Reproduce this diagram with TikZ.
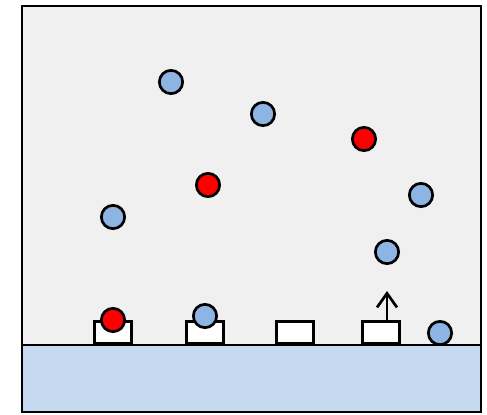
\documentclass[tikz,border=0pt]{standalone}
\usetikzlibrary{arrows.meta}
\definecolor{chamber}{HTML}{F0F0F0}
\definecolor{surface}{HTML}{C6D9F1}
\definecolor{ionblue}{HTML}{8EB4E3}
\begin{document}
\begin{tikzpicture}[
  x=0.03cm, y=-0.03cm,
  wall/.style={draw, line width=2.3pt},
  site/.style={draw, fill=white, line width=2.3pt, minimum width=1.12cm, minimum height=0.66cm, inner sep=0, anchor=south},
  ion/.style={circle, draw, line width=2.3pt, minimum size=0.7cm, inner sep=0},
  blue/.style={ion, fill=ionblue},
  red/.style={ion, fill=red},
  arr/.style={-{Straight Barb[length=12pt,width=17pt]}, line width=2.3pt}
]
\useasboundingbox (0,0) rectangle (487,414);
\fill[chamber] (22,6) rectangle (481,345);
\fill[surface] (22,345) rectangle (481,412);
\draw[wall] (22,6) rectangle (481,412);
\draw[wall] (22,345) -- (481,345);

\node[site] (s1) at (113,345) {};
\node[site] (s2) at (205,345) {};
\node[site] (s3) at (295,345) {};
\node[site] (s4) at (381,345) {};

\node[blue] (a1) at (171,82) {};
\node[blue] (a2) at (263,114) {};
\node[red] (b1) at (364,139) {};
\node[red] (b2) at (208,185) {};
\node[blue] (a3) at (421,195) {};
\node[blue] (a4) at (113,217) {};
\node[blue] (a5) at (387,252) {};
\node[red] (b3) at (113,320) {};
\node[blue] (a6) at (205,316) {};
\node[blue] (a7) at (440,333) {};

\coordinate (up) at (387,291);
\draw[arr] (s4.north -| up) -- (up);
\end{tikzpicture}
\end{document}
